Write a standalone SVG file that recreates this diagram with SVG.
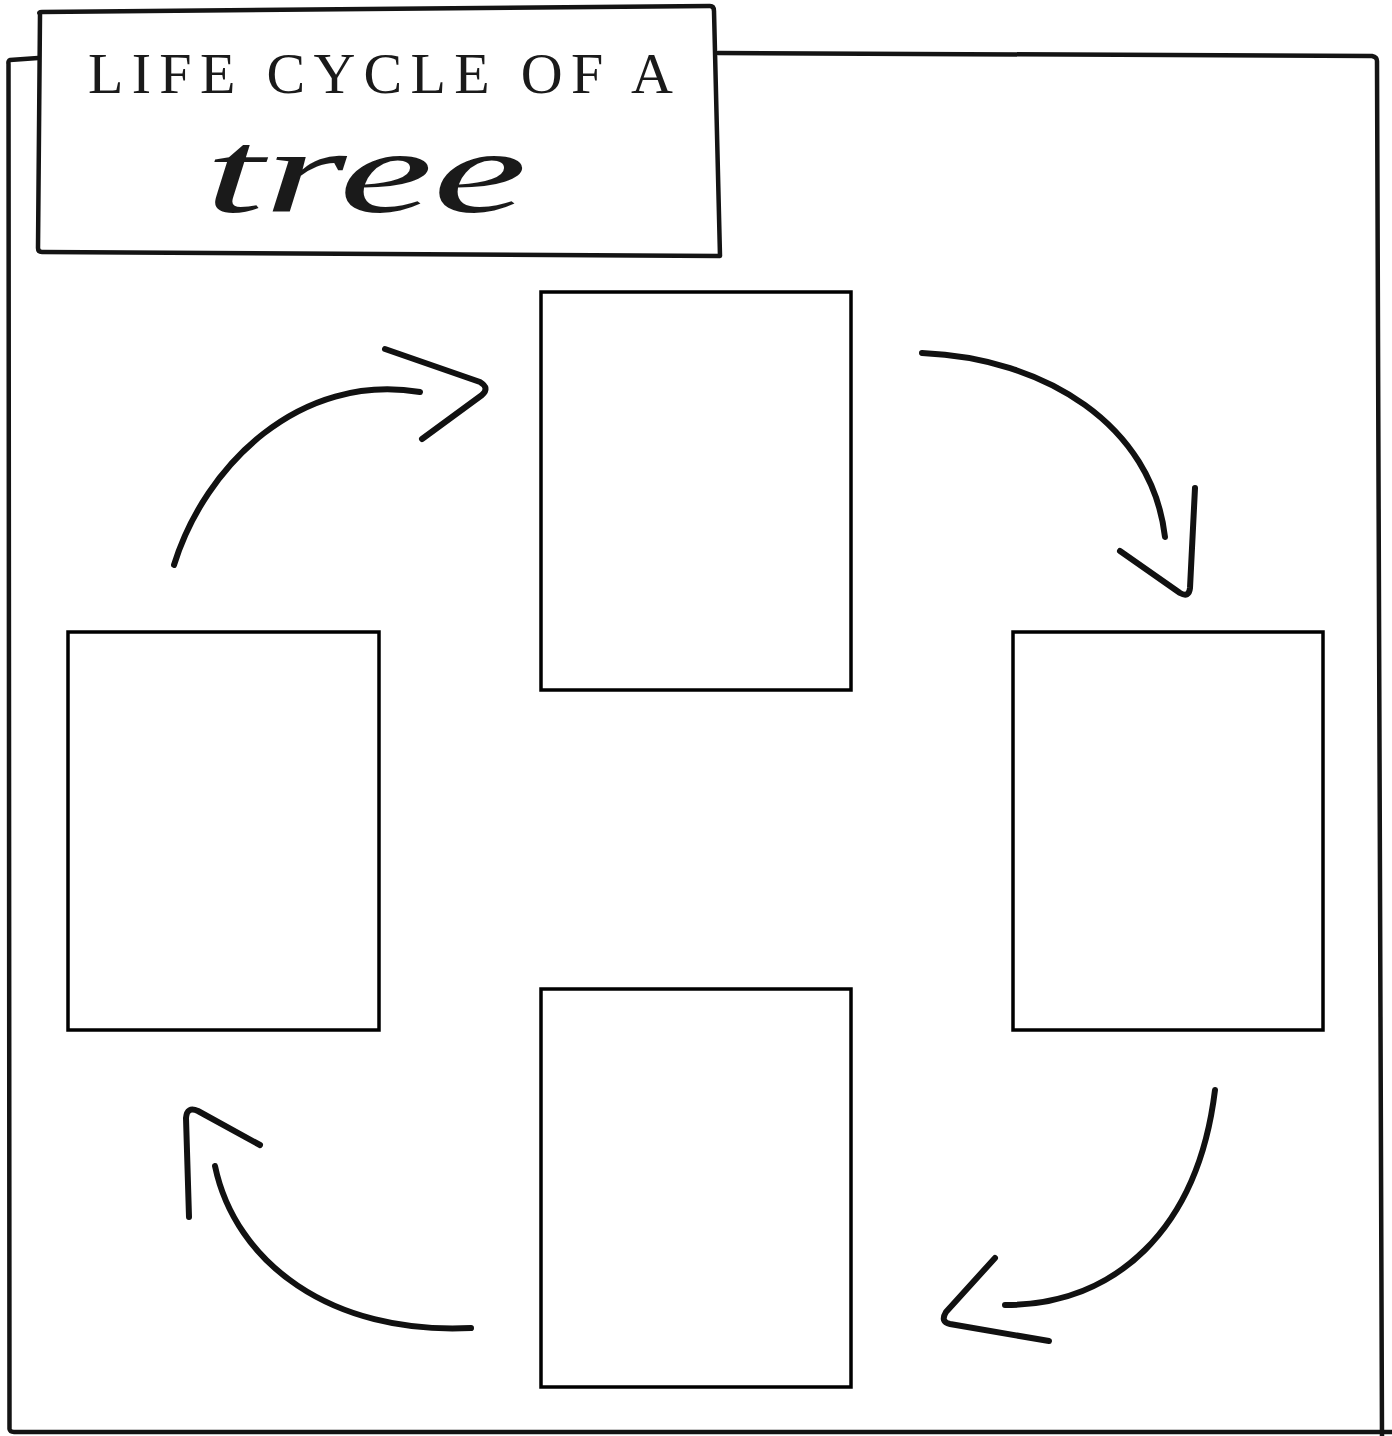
<svg xmlns="http://www.w3.org/2000/svg" width="1392" height="1436" viewBox="0 0 1392 1436">
  <style>
    .frame { fill: none; stroke: #141414; stroke-width: 4.5; stroke-linejoin: round; stroke-linecap: round; }
    .box { fill: #ffffff; stroke: #000000; stroke-width: 3.5; }
    .arc { fill: none; stroke: #111111; stroke-width: 6; stroke-linecap: round; stroke-linejoin: round; }
    .title { font-family: "Liberation Serif", "DejaVu Serif", serif; font-size: 58px; fill: #1a1a1a; }
    .script { font-family: "Liberation Serif", "DejaVu Serif", serif; font-style: italic; font-size: 118px; fill: #1a1a1a; }
  </style>
  <rect width="1392" height="1436" fill="#ffffff"/>

  <g id="outer-frame">
    <path class="frame" d="M38,58 L10,60 Q8,61 8.5,64 L9.5,1429 Q10,1432 14,1432 L1392,1432"/>
    <path class="frame" d="M718,53 L1372,56 Q1377,57 1377,61 L1382,1436"/>
  </g>

  <g id="title-box">
    <path class="frame" fill="#ffffff" d="M40,14 Q38,12 42,12 L710,6 Q714,6 714,11 L720,256 L42,252 Q38,252 38,248 Z"/>
    <text class="title" x="88" y="93" textLength="585" lengthAdjust="spacing">LIFE CYCLE OF A</text>
    <text class="script" x="205" y="212" textLength="322" lengthAdjust="spacingAndGlyphs">tree</text>
  </g>

  <g id="node-top"><rect class="box" x="541" y="292" width="310" height="398"/></g>
  <g id="node-right"><rect class="box" x="1013" y="632" width="310" height="398"/></g>
  <g id="node-bottom"><rect class="box" x="541" y="989" width="310" height="398"/></g>
  <g id="node-left"><rect class="box" x="68" y="632" width="311" height="398"/></g>

  <g id="connectors">
    <path class="arc" d="M174,565 C205,465 300,372 420,392"/>
    <path class="arc" d="M385,349 L480,382 Q490,388 482,395 L422,439"/>

    <path class="arc" d="M922,353 C1045,358 1152,425 1165,537"/>
    <path class="arc" d="M1195,488 L1190,588 Q1189,598 1180,593 L1120,551"/>

    <path class="arc" d="M1215,1090 C1198,1230 1115,1305 1005,1305"/>
    <path class="arc" d="M995,1258 L946,1312 Q940,1322 950,1324 L1049,1341"/>

    <path class="arc" d="M471,1328 C330,1335 235,1262 215,1166"/>
    <path class="arc" d="M189,1217 L186,1118 Q187,1106 198,1111 L260,1145"/>
  </g>
</svg>
